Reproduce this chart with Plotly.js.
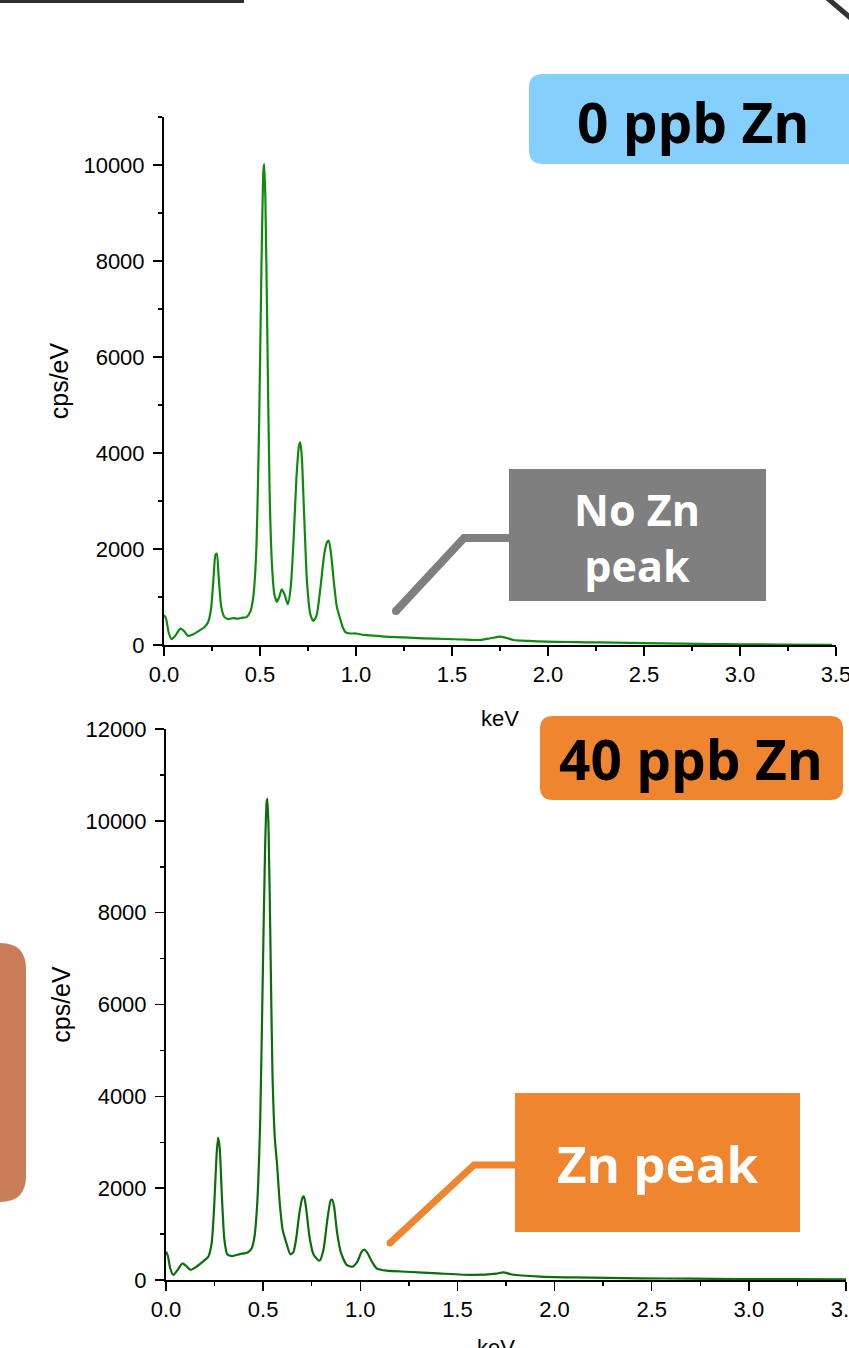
<!DOCTYPE html>
<html>
<head>
<meta charset="utf-8">
<script src="https://cdn.plot.ly/plotly-3.0.1.min.js"></script>
<style>html,body{margin:0;padding:0;background:#fff;}#chart{width:849px;height:1348px;}</style>
</head>
<body>
<div id="chart"></div>
<script>
// ---- data (keV vs cps/eV) ----
const kev0 = [0.000,0.010,0.025,0.040,0.060,0.085,0.105,0.125,0.150,0.180,0.210,0.230,0.245,0.258,0.268,0.275,0.285,0.298,0.315,0.335,0.360,0.385,0.410,0.430,0.450,0.465,0.480,0.495,0.508,0.518,0.522,0.528,0.538,0.550,0.562,0.575,0.588,0.600,0.613,0.628,0.645,0.660,0.675,0.690,0.703,0.710,0.718,0.730,0.745,0.762,0.778,0.795,0.815,0.835,0.850,0.858,0.870,0.885,0.900,0.915,0.930,0.945,0.970,1.000,1.040,1.090,1.150,1.250,1.350,1.470,1.550,1.646,1.700,1.750,1.790,1.820,1.900,1.990,2.100,2.200,2.340,2.500,2.700,2.860,3.000,3.200,3.480];
const cps0 = [620,560,250,120,200,340,290,190,220,290,370,480,750,1400,1880,1900,1400,800,580,540,560,550,570,580,700,1000,1900,4500,8000,9900,10020,9300,6500,3200,1700,1050,900,1000,1160,1050,850,1200,2200,3500,4150,4220,3900,2700,1300,640,500,620,1200,1900,2150,2170,1900,1300,800,580,380,270,240,240,210,195,175,160,140,125,115,105,140,175,140,105,85,70,62,56,50,38,28,20,15,10,5];

const kev40 = [0.000,0.010,0.022,0.038,0.060,0.084,0.105,0.127,0.160,0.190,0.218,0.235,0.248,0.260,0.268,0.276,0.288,0.300,0.315,0.340,0.380,0.420,0.440,0.455,0.470,0.485,0.498,0.510,0.518,0.522,0.528,0.538,0.548,0.560,0.572,0.585,0.600,0.620,0.640,0.655,0.670,0.688,0.703,0.710,0.720,0.740,0.760,0.790,0.810,0.830,0.848,0.855,0.865,0.880,0.900,0.930,0.960,0.985,1.005,1.020,1.035,1.060,1.084,1.136,1.240,1.400,1.580,1.700,1.736,1.780,1.925,2.100,2.440,2.700,2.950,3.200,3.500];
const cps40 = [620,520,250,110,220,360,300,220,300,400,510,800,1600,2700,3100,2900,1800,900,560,520,565,600,680,930,1700,3500,6600,9400,10400,10480,9800,7200,4500,3100,2500,1700,1100,800,560,600,900,1500,1800,1820,1600,900,550,420,650,1300,1740,1750,1600,1050,600,330,290,400,600,660,600,400,255,203,180,145,110,140,168,120,73,55,37,28,22,18,15];

const xTickVals = [0,0.5,1.0,1.5,2.0,2.5,3.0,3.5];
const xTickText = ['0.0','0.5','1.0','1.5','2.0','2.5','3.0','3.5'];
const yTickVals0 = [0,2000,4000,6000,8000,10000];
const yTickVals40 = [0,2000,4000,6000,8000,10000,12000];

const label0 = '0 ppb Zn';
const label40 = '40 ppb Zn';
const noteNo = 'No Zn<br>peak';
const noteZn = 'Zn peak';
const xTitle = 'keV';
const yTitle = 'cps/eV';

// ---- helpers: pixel -> paper ----
const W = 849, H = 1348;
const X = p => p / W;
const Y = p => 1 - p / H;
function rr(x0, y0, x1, y1, r) {
  return `M${X(x0+r)},${Y(y0)} L${X(x1-r)},${Y(y0)} Q${X(x1)},${Y(y0)} ${X(x1)},${Y(y0+r)} ` +
         `L${X(x1)},${Y(y1-r)} Q${X(x1)},${Y(y1)} ${X(x1-r)},${Y(y1)} L${X(x0+r)},${Y(y1)} ` +
         `Q${X(x0)},${Y(y1)} ${X(x0)},${Y(y1-r)} L${X(x0)},${Y(y0+r)} Q${X(x0)},${Y(y0)} ${X(x0+r)},${Y(y0)} Z`;
}
function poly(pts) {
  return pts.map((p, i) => (i ? 'L' : 'M') + X(p[0]) + ',' + Y(p[1])).join(' ');
}

const tickFont = {family: 'Liberation Sans, Arial, sans-serif', size: 22, color: '#000'};
const xTitleFont = {family: 'Liberation Sans, Arial, sans-serif', size: 22, color: '#000'};
const yTitleFont = {family: 'Liberation Sans, Arial, sans-serif', size: 25, color: '#000'};

function xAxis(domain, anchor, title) {
  return {
    domain: domain, anchor: anchor, range: [0, 3.5], autorange: false,
    tickmode: 'array', tickvals: xTickVals, ticktext: xTickText,
    ticks: 'outside', ticklen: 9, tickwidth: 1.5, tickcolor: '#000',
    minor: {ticks: 'outside', ticklen: 4, tickwidth: 1.5, tickcolor: '#000', dtick: 0.25, tick0: 0, showgrid: false},
    showline: true, linecolor: '#000', linewidth: 2,
    showgrid: false, zeroline: false, automargin: false,
    tickfont: tickFont, ticklabelstandoff: 0, ticklabeloverflow: 'allow',
    title: {text: title, font: xTitleFont, standoff: 24}
  };
}
function yAxis(domain, anchor, maxv, vals) {
  return {
    domain: domain, anchor: anchor, range: [0, maxv], autorange: false,
    tickmode: 'array', tickvals: vals, ticktext: vals.map(String),
    ticks: 'outside', ticklen: 9, tickwidth: 1.5, tickcolor: '#000',
    minor: {ticks: 'outside', ticklen: 4, tickwidth: 1.5, tickcolor: '#000', dtick: 1000, tick0: 0, showgrid: false},
    showline: true, linecolor: '#000', linewidth: 2,
    showgrid: false, zeroline: false, automargin: false,
    tickfont: tickFont, ticklabelstandoff: 4, ticklabeloverflow: 'allow',
    title: {text: yTitle, font: yTitleFont, standoff: 8}
  };
}

const traces = [
  {x: kev0, y: cps0, xaxis: 'x', yaxis: 'y', type: 'scatter', mode: 'lines',
   line: {color: '#0f8a0f', width: 2.2, shape: 'spline', smoothing: 0.6}, hoverinfo: 'skip', showlegend: false},
  {x: kev40, y: cps40, xaxis: 'x2', yaxis: 'y2', type: 'scatter', mode: 'lines',
   line: {color: '#0b6d0b', width: 2.2, shape: 'spline', smoothing: 0.6}, hoverinfo: 'skip', showlegend: false}
];

const gray = '#7f7f7f', orange = '#ef852f';
const shapes = [
  // decorative slide fragments
  {type: 'rect', xref: 'paper', yref: 'paper', x0: X(-5), x1: X(244), y0: Y(0), y1: Y(3), fillcolor: '#2e2e2e', line: {width: 0}},
  {type: 'path', xref: 'paper', yref: 'paper', path: poly([[826,-3],[853,20]]), line: {color: '#333', width: 5}},
  {type: 'path', xref: 'paper', yref: 'paper', path: rr(-40, 943, 26, 1202, 26), fillcolor: '#c97d58', line: {width: 0}},
  // label boxes
  {type: 'path', xref: 'paper', yref: 'paper', path: rr(529, 74, 870, 164, 14), fillcolor: '#85cffc', line: {width: 0}},
  {type: 'path', xref: 'paper', yref: 'paper', path: rr(540, 716, 843, 800, 13), fillcolor: orange, line: {width: 0}},
  {type: 'rect', xref: 'paper', yref: 'paper', x0: X(509), x1: X(766), y0: Y(601), y1: Y(469), fillcolor: gray, line: {width: 0}},
  {type: 'rect', xref: 'paper', yref: 'paper', x0: X(515), x1: X(800), y0: Y(1232), y1: Y(1093), fillcolor: orange, line: {width: 0}},
  // connectors
  {type: 'path', xref: 'paper', yref: 'paper', path: poly([[396,611],[464,538],[510,538]]), line: {color: gray, width: 8}},
  {type: 'circle', xref: 'paper', yref: 'paper', x0: X(392), x1: X(400), y0: Y(607), y1: Y(615), fillcolor: gray, line: {width: 0}},
  {type: 'path', xref: 'paper', yref: 'paper', path: poly([[390,1243],[474,1165],[516,1165]]), line: {color: orange, width: 7}},
  {type: 'circle', xref: 'paper', yref: 'paper', x0: X(386.5), x1: X(393.5), y0: Y(1239.5), y1: Y(1246.5), fillcolor: orange, line: {width: 0}}
];

const boldFont = (size, color) => ({family: 'Open Sans, Noto Sans, sans-serif', size: size, color: color, weight: 'bold'});
const annotations = [
  {xref: 'paper', yref: 'paper', x: X(693), y: Y(121), text: '<b>' + label0 + '</b>', showarrow: false, xanchor: 'center', yanchor: 'middle', font: boldFont(55, '#000')},
  {xref: 'paper', yref: 'paper', x: X(691), y: Y(758), text: '<b>' + label40 + '</b>', showarrow: false, xanchor: 'center', yanchor: 'middle', font: boldFont(55, '#000')},
  {xref: 'paper', yref: 'paper', x: X(637), y: Y(537), text: '<b>' + noteNo + '</b>', showarrow: false, xanchor: 'center', yanchor: 'middle', font: boldFont(43, '#fff')},
  {xref: 'paper', yref: 'paper', x: X(658), y: Y(1163), text: '<b>' + noteZn + '</b>', showarrow: false, xanchor: 'center', yanchor: 'middle', font: boldFont(51, '#fff')},
  // lower x-axis title sits at the page edge (partly cut off in the reference)
  {xref: 'paper', yref: 'paper', x: X(496), y: Y(1333), text: xTitle, showarrow: false, xanchor: 'center', yanchor: 'top', font: xTitleFont}
];

const layout = {
  width: W, height: H, autosize: false,
  margin: {l: 0, r: 0, t: 0, b: 0, pad: 0},
  paper_bgcolor: '#fff', plot_bgcolor: 'rgba(0,0,0,0)',
  showlegend: false,
  xaxis: xAxis([X(164), X(836)], 'y', xTitle),
  yaxis: yAxis([Y(645), Y(117)], 'x', 11000, yTickVals0),
  xaxis2: xAxis([X(166), X(846)], 'y2', ''),
  yaxis2: yAxis([Y(1280), Y(729)], 'x2', 12000, yTickVals40),
  shapes: shapes,
  annotations: annotations
};

Plotly.newPlot('chart', traces, layout, {staticPlot: true, displayModeBar: false});
</script>
</body>
</html>
